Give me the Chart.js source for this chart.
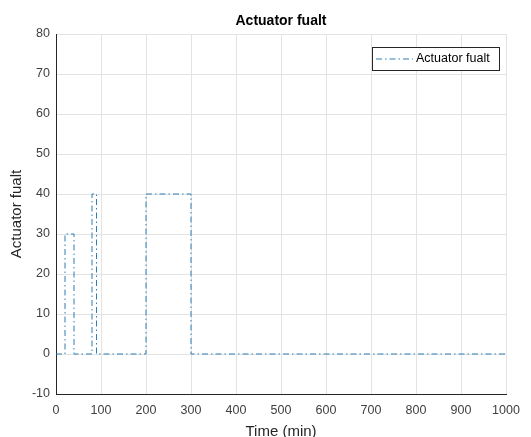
<!DOCTYPE html>
<html>
<head>
<meta charset="utf-8">
<script src="https://cdn.jsdelivr.net/npm/chart.js@4"></script>
<style>
  html, body { margin: 0; padding: 0; background: #fff; }
  #wrap { width: 531px; height: 437px; }
</style>
</head>
<body>
<div id="wrap"><canvas id="faultChart" width="531" height="437"></canvas></div>
<script>
// Data (step changes, held until next time)
const timeMin = [0, 20, 40, 80, 90, 200, 300, 1000];
const faultValue = [0, 30, 0, 40, 0, 40, 0, 0];
const seriesName = 'Actuator fualt';

const lineColor = '#2f7db3';
const dashDot = [6, 3, 1.5, 3];
const fontFamily = "'Liberation Sans', Arial, sans-serif";

// Matlab-style boxed legend drawn inside the plot area
const boxLegend = {
    id: 'boxLegend',
    afterDraw(chart) {
        const c = chart.ctx;
        const area = chart.chartArea;
        const w = 127, h = 23;
        const x = area.right - 7 - w;
        const y = area.top + 13;
        c.save();
        c.fillStyle = '#fff';
        c.fillRect(x, y, w, h);
        c.strokeStyle = '#262626';
        c.lineWidth = 1;
        c.strokeRect(x + 0.5, y + 0.5, w, h);
        c.strokeStyle = lineColor;
        c.setLineDash(dashDot);
        c.beginPath();
        c.moveTo(x + 4, y + 12);
        c.lineTo(x + 41, y + 12);
        c.stroke();
        c.setLineDash([]);
        c.fillStyle = '#000';
        c.font = '12.5px ' + fontFamily;
        c.textBaseline = 'middle';
        c.fillText(seriesName, x + 44, y + 12);
        c.restore();
    }
};

const ctx = document.getElementById('faultChart').getContext('2d');
new Chart(ctx, {
    type: 'line',
    data: {
        datasets: [{
            label: seriesName,
            data: timeMin.map((t, i) => ({ x: t, y: faultValue[i] })),
            stepped: 'before',
            borderColor: lineColor,
            borderWidth: 1,
            borderDash: dashDot,
            pointRadius: 0,
            fill: false
        }]
    },
    options: {
        responsive: false,
        animation: false,
        layout: { padding: { left: 0, right: 25, top: 0, bottom: 0 } },
        plugins: {
            legend: { display: false },
            tooltip: { enabled: false },
            title: {
                display: true,
                fullSize: false,
                text: seriesName,
                color: '#000',
                font: { family: fontFamily, size: 14, weight: 'bold' },
                padding: { top: 12.5, bottom: 4.7 }
            }
        },
        scales: {
            x: {
                type: 'linear',
                min: 0, max: 1000,
                afterFit: s => { s.height = 43; },
                title: {
                    display: true, text: 'Time (min)', color: '#262626',
                    font: { family: fontFamily, size: 15 },
                    padding: { top: 0, bottom: -4 }
                },
                grid: { color: '#e3e3e3', drawTicks: false },
                border: { color: '#262626', width: 1 },
                ticks: { stepSize: 100, color: '#404040', padding: 9, maxRotation: 0,
                         callback: v => String(v),
                         font: { family: fontFamily, size: 12.5 } }
            },
            y: {
                min: -10, max: 80,
                afterFit: s => { s.width = 56; },
                title: {
                    display: true, text: seriesName, color: '#262626',
                    font: { family: fontFamily, size: 15 },
                    padding: { top: 8, bottom: 0 }
                },
                grid: { color: '#e3e3e3', drawTicks: false },
                border: { color: '#262626', width: 1 },
                ticks: { stepSize: 10, color: '#404040', padding: 6,
                         callback: v => String(v),
                         font: { family: fontFamily, size: 12.5 } }
            }
        }
    },
    plugins: [boxLegend]
});
</script>
</body>
</html>
